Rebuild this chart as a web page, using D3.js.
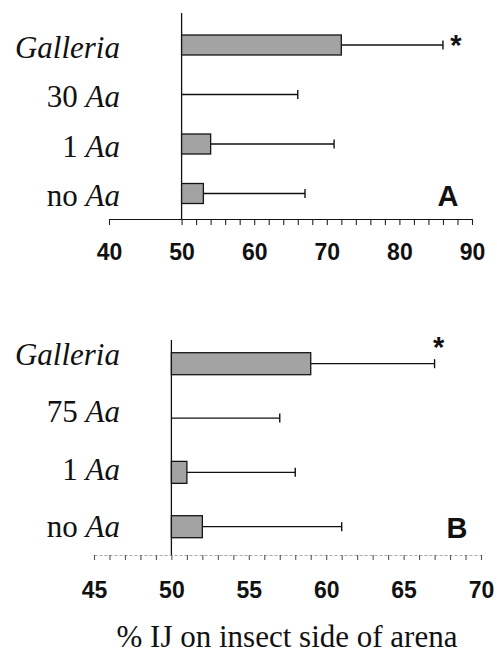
<!DOCTYPE html>
<html>
<head>
<meta charset="utf-8">
<script src="https://cdn.jsdelivr.net/npm/d3@7"></script>
<style>
  body { margin: 0; background: #fff; }
  svg { display: block; }
</style>
</head>
<body>
<div id="chart-area"></div>
<script>
// Panel A data
const catsA = ["Galleria", "30 Aa", "1 Aa", "no Aa"]
const meanA = [72, 50, 54, 53]
const seA = [14, 16, 17, 14]
const sigA = [true, false, false, false]
const majorA = [40, 50, 60, 70, 80, 90]
const minorA = [40].concat(d3.range(50, 91, 2))

// Panel B data
const catsB = ["Galleria", "75 Aa", "1 Aa", "no Aa"]
const meanB = [59, 50, 51, 52]
const seB = [8, 7, 7, 9]
const sigB = [true, false, false, false]
const majorB = [45, 50, 55, 60, 65, 70]
const minorB = d3.range(45, 71, 1)

const WIDTH = 497
const HEIGHT = 655
const SERIF = "'Liberation Serif', 'Times New Roman', serif"
const SANS = "'Liberation Sans', Arial, sans-serif"

const svg = d3.select("#chart-area").append("svg")
  .attr("width", WIDTH)
  .attr("height", HEIGHT)

function panel(opts) {
  const g = svg.append("g")

  const x = d3.scaleLinear()
    .domain(opts.domain)
    .range(opts.xRange)

  const y = d3.scalePoint()
    .domain(opts.cats)
    .range(opts.yRange)

  const yLab = d3.scalePoint()
    .domain(opts.cats)
    .range(opts.labRange)

  const rows = opts.cats.map((c, i) => ({
    cat: c, mean: opts.mean[i], se: opts.se[i], sig: opts.sig[i]
  }))

  // X axis, minor ticks
  const axisG = g.append("g")
    .attr("transform", `translate(0, ${opts.axisY})`)
    .call(d3.axisBottom(x)
      .tickValues(opts.minor)
      .tickSize(opts.tickLen)
      .tickSizeOuter(0)
      .tickFormat(""))
  axisG.select(".domain")
    .attr("stroke", opts.axisColor)
    .attr("stroke-width", 1.2)
    .attr("stroke-dasharray", opts.dash)
  axisG.selectAll(".tick line")
    .attr("stroke", opts.tickColor)
    .attr("stroke-width", 1.1)

  // X axis, labels
  const labG = g.append("g")
    .attr("transform", `translate(0, ${opts.axisY})`)
    .call(d3.axisBottom(x)
      .tickValues(opts.major)
      .tickSize(0)
      .tickFormat(d3.format("d")))
  labG.select(".domain").remove()
  labG.selectAll("text")
    .attr("y", opts.labelDy)
    .attr("dy", null)
    .attr("font-family", SANS)
    .attr("font-weight", "bold")
    .attr("font-size", "23px")
    .attr("fill", "#111")

  // Y axis line at 50
  g.append("line")
    .attr("x1", x(50)).attr("x2", x(50))
    .attr("y1", opts.yTop).attr("y2", opts.axisY)
    .attr("stroke", "#111")
    .attr("stroke-width", 1.3)

  // category labels
  const lab = g.selectAll(".cat-label")
    .data(rows)
    .enter().append("text")
    .attr("class", "cat-label")
    .attr("x", 120)
    .attr("y", d => yLab(d.cat))
    .attr("text-anchor", "end")
    .attr("font-family", SERIF)
    .attr("font-size", "31px")
    .attr("fill", "#111")
  lab.each(function(d) {
    const t = d3.select(this)
    if (d.cat.endsWith("Aa")) {
      t.append("tspan").text(d.cat.slice(0, -2))
      t.append("tspan").attr("font-style", "italic").text("Aa")
    } else {
      t.append("tspan").attr("font-style", "italic").text(d.cat)
    }
  })

  // error bars
  g.selectAll(".err")
    .data(rows)
    .enter().append("line")
    .attr("class", "err")
    .attr("x1", d => x(d.mean))
    .attr("x2", d => x(d.mean + d.se))
    .attr("y1", d => y(d.cat))
    .attr("y2", d => y(d.cat))
    .attr("stroke", "#111")
    .attr("stroke-width", 1.3)
  g.selectAll(".cap")
    .data(rows)
    .enter().append("line")
    .attr("class", "cap")
    .attr("x1", d => x(d.mean + d.se))
    .attr("x2", d => x(d.mean + d.se))
    .attr("y1", d => y(d.cat) - 4.5)
    .attr("y2", d => y(d.cat) + 4.5)
    .attr("stroke", "#111")
    .attr("stroke-width", 1.4)

  // bars
  g.selectAll(".bar")
    .data(rows.filter(d => d.mean > 50))
    .enter().append("rect")
    .attr("class", "bar")
    .attr("x", x(50))
    .attr("y", d => y(d.cat) - opts.barH / 2)
    .attr("width", d => x(d.mean) - x(50))
    .attr("height", opts.barH)
    .attr("fill", "#a3a3a3")
    .attr("stroke", "#151515")
    .attr("stroke-width", 1.3)

  // significance stars
  g.selectAll(".star")
    .data(rows.filter(d => d.sig))
    .enter().append("text")
    .attr("class", "star")
    .attr("x", d => x(d.mean + d.se) + opts.starDx)
    .attr("y", d => y(d.cat) + opts.starDy)
    .attr("text-anchor", "middle")
    .attr("font-family", SANS)
    .attr("font-weight", "bold")
    .attr("font-size", "29px")
    .attr("fill", "#111")
    .text("*")

  // panel letter
  g.append("text")
    .attr("x", opts.letterX)
    .attr("y", opts.letterY)
    .attr("text-anchor", "middle")
    .attr("font-family", SANS)
    .attr("font-weight", "bold")
    .attr("font-size", "29px")
    .attr("fill", "#111")
    .text(opts.letter)
}

panel({
  cats: catsA, mean: meanA, se: seA, sig: sigA,
  domain: [40, 90], xRange: [109, 472],
  yRange: [45, 193.5], labRange: [58, 206], barH: 20,
  axisY: 219, yTop: 13, tickLen: 6, labelDy: 41,
  minor: minorA, major: majorA,
  axisColor: "#111", tickColor: "#222", dash: null,
  starDx: 13, starDy: 10,
  letter: "A", letterX: 448, letterY: 206
})

panel({
  cats: catsB, mean: meanB, se: seB, sig: sigB,
  domain: [45, 70], xRange: [94, 481],
  yRange: [363.7, 526.7], labRange: [365, 537], barH: 22,
  axisY: 555, yTop: 340, tickLen: 5, labelDy: 43,
  minor: minorB, major: majorB,
  axisColor: "#aaa", tickColor: "#555", dash: "3,2",
  starDx: 4, starDy: -7,
  letter: "B", letterX: 457, letterY: 538
})

// shared axis title
svg.append("text")
  .attr("x", 287)
  .attr("y", 647)
  .attr("text-anchor", "middle")
  .attr("font-family", SERIF)
  .attr("font-size", "31px")
  .attr("fill", "#111")
  .text("% IJ on insect side of arena")
</script>
</body>
</html>
